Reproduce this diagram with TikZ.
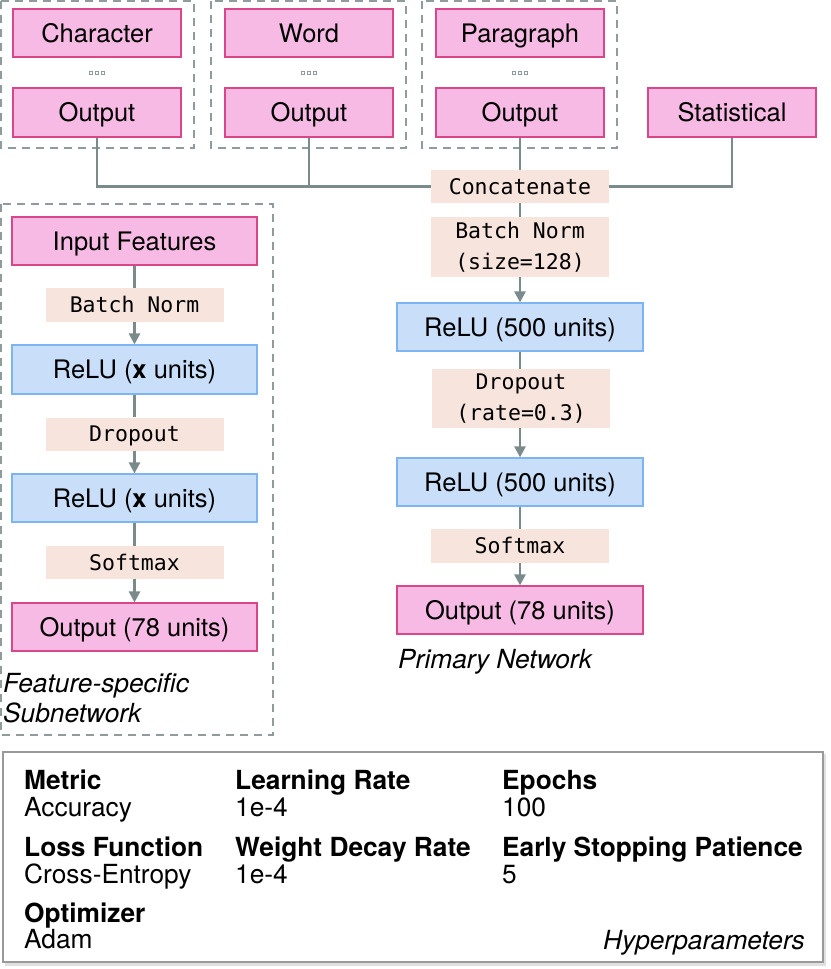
\documentclass[tikz,border=0pt]{standalone}
\usepackage{fontspec}
\setmainfont{TeX Gyre Heros}
\setsansfont{TeX Gyre Heros}
\setmonofont{DejaVu Sans Mono}
\usetikzlibrary{arrows.meta,shadows}
\definecolor{pinkfill}{HTML}{F7BAE4}
\definecolor{pinkline}{HTML}{D9478A}
\definecolor{bluefill}{HTML}{C8DEF9}
\definecolor{blueline}{HTML}{7DB5F2}
\definecolor{beige}{HTML}{F7E4DC}
\definecolor{conn}{HTML}{7B8B8B}
\definecolor{dashc}{HTML}{909B9B}
\tikzset{
  base/.style={inner sep=0pt, align=center, text height=18pt, text depth=0pt, font=\fontsize{25.5}{30}\selectfont},
  pinkbox/.style={base, draw=pinkline, fill=pinkfill, line width=1.2pt},
  bluebox/.style={base, draw=blueline, fill=bluefill, line width=1.2pt},
  opbox/.style={inner sep=0pt, align=center, fill=beige, minimum width=178pt, font=\fontsize{21.5}{31}\selectfont\ttfamily},
  oneline/.style={text height=15.7pt, text depth=0pt},
  conline/.style={draw=conn, line width=2.6pt},
  arr/.style={conline, -{Triangle[width=11pt,length=11pt]}},
  dashbox/.style={draw=dashc, line width=1.3pt, dash pattern=on 8pt off 6pt},
  lbl/.style={inner sep=0pt, anchor=base west, font=\fontsize{26.3}{30}\selectfont\itshape},
  hk/.style={inner sep=0pt, anchor=base west, font=\fontsize{26.3}{30}\selectfont\bfseries},
  hv/.style={inner sep=0pt, anchor=base west, font=\fontsize{26.3}{30}\selectfont},
  dotsq/.style={draw=dashc, line width=0.8pt}
}
\begin{document}
\begin{tikzpicture}[x=1pt,y=-1pt]
\useasboundingbox (0,0) rectangle (830,969);
% dashed groups
\draw[dashbox] (1,1) rectangle (194,148);
\draw[dashbox] (211,1) rectangle (406,148);
\draw[dashbox] (422,1) rectangle (617,148);
\draw[dashbox] (1,204) rectangle (273,735);

% top nodes
\node[pinkbox, minimum width=168pt, minimum height=48pt] (char) at (97,33) {Character};
\node[pinkbox, minimum width=168pt, minimum height=49pt] (charout) at (97,112.5) {Output};
\node[pinkbox, minimum width=168pt, minimum height=48pt] (word) at (309,33) {Word};
\node[pinkbox, minimum width=168pt, minimum height=49pt] (wordout) at (309,112.5) {Output};
\node[pinkbox, minimum width=168pt, minimum height=48pt] (para) at (520,33) {Paragraph};
\node[pinkbox, minimum width=168pt, minimum height=49pt] (paraout) at (520,112.5) {Output};
\node[pinkbox, minimum width=168pt, minimum height=49pt] (stat) at (732,112.5) {Statistical};

% dots
\foreach \cx in {97,309,520}{
  \foreach \dx in {-6,0,6}{
    \draw[dotsq] (\cx+\dx-1.5,71.5) rectangle (\cx+\dx+1.5,74.5);
  }
}

% primary network
\node[opbox, oneline, minimum height=33pt] (concat) at (520,186.5) {Concatenate};
\node[opbox, minimum height=60pt] (bn) at (520,247) {Batch Norm\\(size=128)};
\node[bluebox, minimum width=246pt, minimum height=48pt] (relu1) at (520,327) {ReLU (500 units)};
\node[opbox, minimum height=59pt] (drop) at (521,398.5) {Dropout\\(rate=0.3)};
\node[bluebox, minimum width=246pt, minimum height=48pt] (relu2) at (520,482) {ReLU (500 units)};
\node[opbox, oneline, minimum height=34pt] (soft) at (520,546) {Softmax};
\node[pinkbox, minimum width=246pt, minimum height=48pt] (out) at (520,610) {Output (78 units)};
\node[lbl] (plabel) at (398,668) {Primary Network};

% connectors top
\draw[conline] (charout.south) |- (concat.west);
\draw[conline] (wordout.south) -- (wordout.south |- concat.west);
\draw[conline] (paraout.south) -- (concat.north);
\draw[conline] (stat.south) |- (concat.east);
\draw[conline] (concat.south) -- (bn.north);
\draw[arr] (bn.south) -- (relu1.north);
\draw[conline] (relu1.south) -- (relu1.south |- drop.north);
\draw[arr] (relu1.south |- drop.south) -- (relu2.north);
\draw[conline] (relu2.south) -- (soft.north);
\draw[arr] (soft.south) -- (out.north);

% subnetwork
\node[pinkbox, minimum width=245pt, minimum height=48pt] (inp) at (134.5,241) {Input Features};
\node[opbox, oneline, minimum height=34pt] (bna) at (134.5,305) {Batch Norm};
\node[bluebox, minimum width=245pt, minimum height=49pt] (relua) at (134.5,369.5) {ReLU (\textbf{x} units)};
\node[opbox, oneline, minimum height=33pt] (dropa) at (134.5,434) {Dropout};
\node[bluebox, minimum width=245pt, minimum height=48pt] (relub) at (134.5,498) {ReLU (\textbf{x} units)};
\node[opbox, oneline, minimum height=33pt] (softa) at (134.5,562.5) {Softmax};
\node[pinkbox, minimum width=245pt, minimum height=48pt] (outa) at (134.5,627) {Output (78 units)};
\node[lbl] (slabel1) at (3,692) {Feature-specific};
\node[lbl] (slabel2) at (3,722) {Subnetwork};

\draw[conline] (inp.south) -- (bna.north);
\draw[arr] (bna.south) -- (relua.north);
\draw[conline] (relua.south) -- (dropa.north);
\draw[arr] (dropa.south) -- (relub.north);
\draw[conline] (relub.south) -- (softa.north);
\draw[arr] (softa.south) -- (outa.north);

% hyperparameters box
\fill[black!12] (5,754) rectangle (826,966);
\draw[draw=black!40, fill=white, line width=1.5pt] (3,752) rectangle (823,962);
\node[hk] (k1) at (24,789) {Metric};
\node[hv] (v1) at (24,816) {Accuracy};
\node[hk] (k2) at (24,856) {Loss Function};
\node[hv] (v2) at (24,883) {Cross-Entropy};
\node[hk] (k3) at (24,922) {Optimizer};
\node[hv] (v3) at (24,948) {Adam};
\node[hk] (k4) at (235,789) {Learning Rate};
\node[hv] (v4) at (235,816) {1e-4};
\node[hk] (k5) at (235,856) {Weight Decay Rate};
\node[hv] (v5) at (235,883) {1e-4};
\node[hk] (k6) at (502,789) {Epochs};
\node[hv] (v6) at (502,816) {100};
\node[hk] (k7) at (502,856) {Early Stopping Patience};
\node[hv] (v7) at (502,883) {5};
\node[inner sep=0pt, anchor=base east, font=\fontsize{26.3}{30}\selectfont\itshape] (hlabel) at (805,949) {Hyperparameters};
\end{tikzpicture}
\end{document}
